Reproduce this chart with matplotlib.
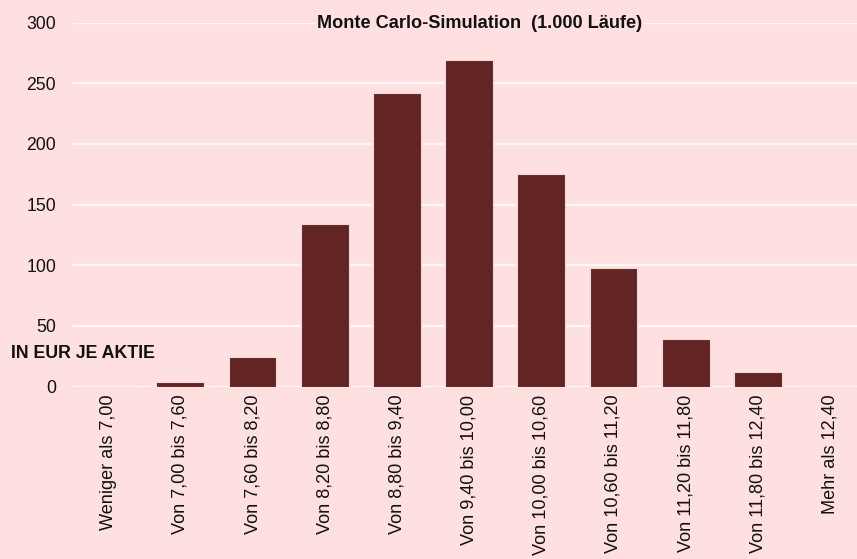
import matplotlib
matplotlib.use("Agg")
import matplotlib.pyplot as plt

categories = ["Weniger als 7,00", "Von 7,00 bis 7,60", "Von 7,60 bis 8,20",
              "Von 8,20 bis 8,80", "Von 8,80 bis 9,40", "Von 9,40 bis 10,00",
              "Von 10,00 bis 10,60", "Von 10,60 bis 11,20", "Von 11,20 bis 11,80",
              "Von 11,80 bis 12,40", "Mehr als 12,40"]
counts = [0, 4, 24, 134, 242, 269, 175, 98, 39, 12, 0]
yticks = [0, 50, 100, 150, 200, 250, 300]
title = "Monte Carlo-Simulation  (1.000 Läufe)"
ylabel_text = "IN EUR JE AKTIE"

BG = "#FFE0E0"
BAR = "#632424"
GRID = "#FFF6F6"

plt.rcParams['font.family'] = ['Liberation Sans', 'DejaVu Sans']

W, H = 857, 559
fig = plt.figure(figsize=(W / 100, H / 100), dpi=100, facecolor=BG)
left = 72 / W
bottom = (H - 386.5) / H
top = (H - 22.7) / H
ax = fig.add_axes([left, bottom, 1 - left, top - bottom], facecolor=BG)

x = list(range(len(categories)))
ax.bar(x, counts, width=0.66, color=BAR, edgecolor="#F3D6D6", linewidth=0.8, zorder=3)

ax.set_xlim(-0.5, -0.5 + (W - 72) / 72.2)
ax.set_ylim(0, 300)
ax.set_yticks(yticks)
ax.set_yticklabels([str(v) for v in yticks], fontsize=12.7, color="#111111")
ax.set_xticks(x)
ax.set_xticklabels(categories, rotation=90, fontsize=13.1, color="#111111", va="top")
ax.tick_params(axis="y", length=0, pad=11.5)
ax.tick_params(axis="x", length=0, pad=6)
ax.grid(axis="y", color=GRID, linewidth=1.6, zorder=0)
ax.set_axisbelow(True)
for s in ax.spines.values():
    s.set_visible(False)

fig.text(480 / W, 1 - 23.5 / H, title, ha="center", va="center", fontsize=13.1,
         fontweight="bold", color="#111111",
         bbox=dict(facecolor=BG, edgecolor="none", pad=1.5))
fig.text(11 / W, 1 - 354 / H, ylabel_text, ha="left", va="center", fontsize=12.8,
         fontweight="bold", color="#111111")

fig.savefig("out.png", dpi=100, facecolor=BG)
